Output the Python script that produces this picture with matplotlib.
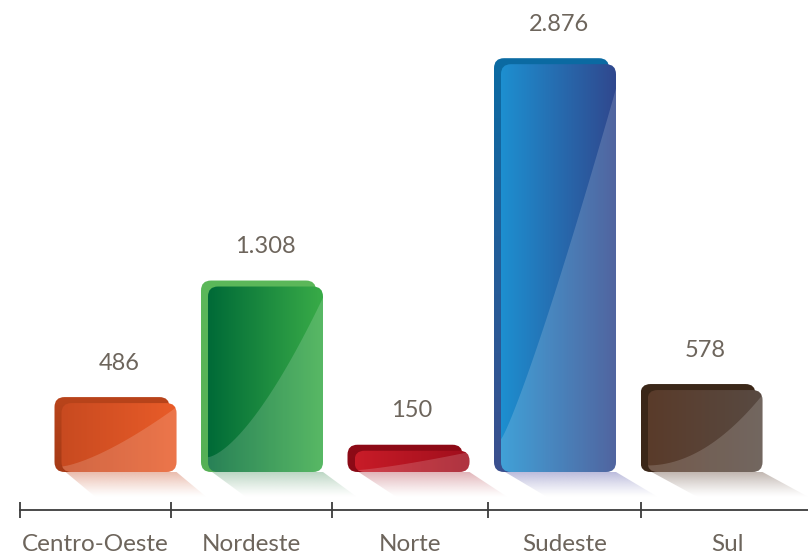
import numpy as np
import matplotlib
matplotlib.use("Agg")
import matplotlib.pyplot as plt
from matplotlib.patches import FancyBboxPatch, Polygon
from matplotlib.colors import to_rgb

# ---------------- data ----------------
categories = ["Centro-Oeste", "Nordeste", "Norte", "Sudeste", "Sul"]
values = [486, 1308, 150, 2876, 578]
value_labels = ["486", "1.308", "150", "2.876", "578"]

# ---------------- styles ----------------
back_top_colors = ["#b9441b", "#5cb85a", "#8e0a16", "#0b6ba3", "#3b2719"]
back_bottom_colors = ["#a63a16", "#55b055", "#8a0a16", "#3b4f8e", "#3b2719"]
front_left_colors = ["#c84a20", "#006a37", "#c81c28", "#1d8fd0", "#5a3b2a"]
front_right_colors = ["#e95c29", "#39ac48", "#a00e1c", "#30488e", "#584a42"]
shadow_colors = ["#e9b8a8", "#b8d4c0", "#e0b0b4", "#b8b8da", "#bdb2ac"]
gloss_exp = [1.4, 1.5, 1.3, 1.15, 2.0]
text_color = "#6d655c"
axis_color = "#3c3c3c"

plt.rcParams["font.family"] = ["Lato", "DejaVu Sans"]

W, H = 808, 555
fig = plt.figure(figsize=(W / 100, H / 100), dpi=100)
AX_L, AX_R, AX_T, AX_B = 20, 808, 0, 510
ax = fig.add_axes([AX_L / W, 1 - AX_B / H, (AX_R - AX_L) / W, (AX_B - AX_T) / H])

BAR0_PX, BAR_STEP_PX = 119, 146.5
BASE_PX, PX_PER_VAL = 472, 0.1418


def px_to_x(px):
    return (np.asarray(px, dtype=float) - BAR0_PX) / BAR_STEP_PX


def px_to_y(py):
    return (BASE_PX - np.asarray(py, dtype=float)) / PX_PER_VAL


xlim = (float(px_to_x(AX_L)), float(px_to_x(AX_R)))
ylim = (float(px_to_y(AX_B)), float(px_to_y(AX_T)))
ax.set_xlim(*xlim)
ax.set_ylim(*ylim)

sx = BAR_STEP_PX
sy = PX_PER_VAL
aspect = sx / sy

bar_w = 115 / sx
rad = 10 / sx
back_dx = 7 / sx
back_dy = 6 / sy
shadow_h = 25 / sy


def grad_image(c1, c2, n=128, horizontal=True):
    a = np.array(to_rgb(c1))
    b = np.array(to_rgb(c2))
    t = np.linspace(0, 1, n)[:, None]
    cols = a * (1 - t) + b * t
    if horizontal:
        return cols[None, :, :]
    return cols[:, None, :]


for i, v in enumerate(values):
    x0 = i - bar_w / 2
    x1 = i + bar_w / 2

    # shadow
    sdx = (30 + 4 * i) / sx
    poly = Polygon([(x0 + 4 / sx, 0), (x1, 0), (x1 + sdx, -shadow_h), (x0 + 4 / sx + sdx, -shadow_h)],
                   closed=True, fc="none", ec="none", zorder=1)
    ax.add_patch(poly)
    rgba = np.zeros((64, 1, 4))
    rgba[:, 0, :3] = to_rgb(shadow_colors[i])
    rgba[:, 0, 3] = np.linspace(0.95, 0.0, 64) ** 1.2
    im = ax.imshow(rgba, extent=(x0, x1 + sdx + 0.05, -shadow_h, 0), aspect="auto",
                   origin="upper", interpolation="bilinear", zorder=1)
    im.set_clip_path(poly)

    # back layer
    back = FancyBboxPatch((x0 - back_dx, 0), bar_w, v + back_dy,
                          boxstyle=f"round,pad=0,rounding_size={rad}",
                          mutation_aspect=aspect, fc="none", ec="none", zorder=2)
    ax.add_patch(back)
    im = ax.imshow(grad_image(back_top_colors[i], back_bottom_colors[i], horizontal=False),
                   extent=(x0 - back_dx, x1, 0, v + back_dy), aspect="auto",
                   origin="upper", interpolation="bilinear", zorder=2)
    im.set_clip_path(back)

    # front layer
    front = FancyBboxPatch((x0, 0), bar_w, v,
                           boxstyle=f"round,pad=0,rounding_size={rad}",
                           mutation_aspect=aspect, fc="none", ec="none", zorder=3)
    ax.add_patch(front)
    im = ax.imshow(grad_image(front_left_colors[i], front_right_colors[i]),
                   extent=(x0, x1, 0, v), aspect="auto",
                   origin="upper", interpolation="bilinear", zorder=3)
    im.set_clip_path(front)

    # gloss
    t = np.linspace(0, 1, 60)
    u = 0.08 + 0.86 * t ** gloss_exp[i]
    gx = x0 + t * bar_w
    gy = u * v
    pts = list(zip(gx, gy)) + [(x1 + 0.01, v), (x1 + 0.01, -1), (x0 - 0.01, -1)]
    gloss = Polygon(pts, closed=True, fc="white", ec="none", alpha=0.16, zorder=4)
    ax.add_patch(gloss)
    gloss.set_clip_path(front)

    # value label
    ax.annotate(value_labels[i], xy=(i, v), xytext=(0, 40 * 0.72), textcoords="offset points",
                ha="center", va="center", fontsize=17, color=text_color, zorder=5)

ax.set_xlim(*xlim)
ax.set_ylim(*ylim)

# axis
for s in ["top", "left", "right"]:
    ax.spines[s].set_visible(False)
ax.spines["bottom"].set_color(axis_color)
ax.spines["bottom"].set_linewidth(1.3)
ax.set_yticks([])

tick_px = [20, 171, 332, 488, 641]
label_px = [95, 251, 410, 565, 727]
ax.set_xticks(px_to_x(tick_px))
ax.set_xticklabels([])
ax.set_xticks(px_to_x(label_px), labels=categories, minor=True)
ax.tick_params(axis="x", which="major", direction="inout", length=11.5, width=1.3, color=axis_color)
ax.tick_params(axis="x", which="minor", length=0, pad=17, labelsize=17.5, labelcolor=text_color)
ax.patch.set_alpha(0)

fig.savefig("out.png", dpi=100)
